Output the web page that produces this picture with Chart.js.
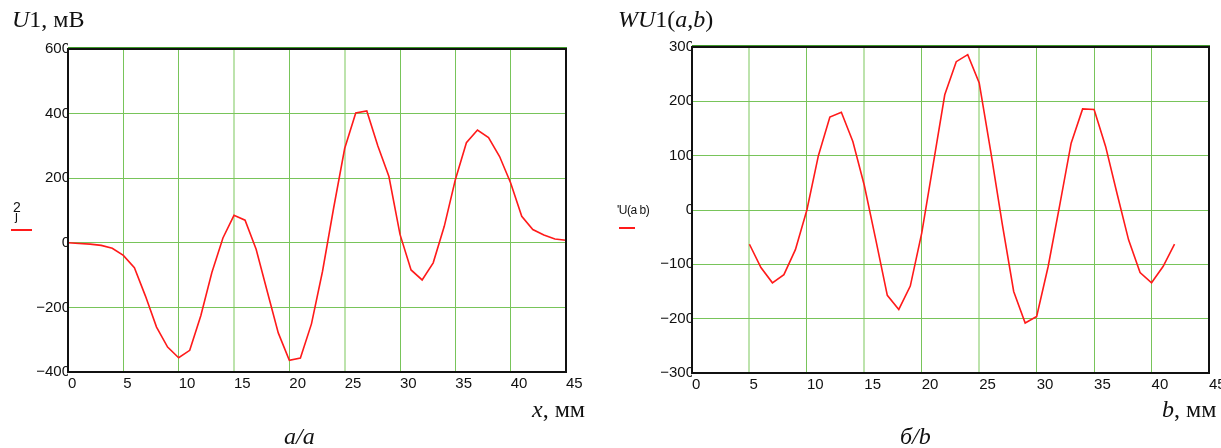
<!DOCTYPE html>
<html>
<head>
<meta charset="utf-8">
<script src="https://cdn.jsdelivr.net/npm/chart.js@4/dist/chart.umd.min.js"></script>
<style>
  html, body { margin: 0; padding: 0; background: #fff; overflow: hidden; }
  body { width: 1221px; height: 448px; position: relative; }
  .cv { position: absolute; top: 0; }
  .txt { position: absolute; white-space: nowrap; color: #111; font-family: "Liberation Serif", "DejaVu Serif", serif; }
  .leg { position: absolute; font-family: "Liberation Sans", Arial, sans-serif; color: #111; }
  .mark { position: absolute; height: 2px; background: #ff1a1a; }
  i { font-style: italic; }
</style>
</head>
<body>
<div class="cv" style="left:0; width:610px; height:448px;"><canvas id="chartA"></canvas></div>
<div class="cv" style="left:610px; width:640px; height:448px;"><canvas id="chartB"></canvas></div>

<!-- подписи осей -->
<div class="txt" style="left:12px; top:6px; font-size:24px;"><i>U</i>1, мВ</div>
<div class="txt" style="left:618px; top:6px; font-size:24px;"><i>WU</i>1(<i>a</i>,<i>b</i>)</div>
<div class="txt" style="left:532px; top:396px; font-size:24px;"><i>x</i>, мм</div>
<div class="txt" style="left:1162px; top:396px; font-size:24px;"><i>b</i>, мм</div>
<div class="txt" style="left:284px; top:423px; font-size:24px;"><i>а/a</i></div>
<div class="txt" style="left:900px; top:423px; font-size:24px;"><i>б/b</i></div>

<!-- метки легенды -->
<div class="leg" style="left:13px; top:199px; font-size:14px;">2</div>
<div class="leg" style="left:15px; top:208px; font-size:13px;">j</div>
<div class="mark" style="left:11px; top:229px; width:21px;"></div>
<div class="leg" style="left:617px; top:203px; font-size:12px; letter-spacing:-0.5px;">'U(a b)</div>
<div class="mark" style="left:619px; top:227px; width:16px;"></div>

<script>
// данные: U1(x), мВ
const xMm = [0, 1, 2, 3, 4, 5, 6, 7, 8, 9, 10, 11, 12, 13, 14, 15, 16, 17, 18, 19, 20, 21, 22,
    23, 24, 25, 26, 27, 28, 29, 30, 31, 32, 33, 34, 35, 36, 37, 38, 39, 40, 41, 42, 43, 44, 45];
const u1 = [0, -2, -4, -8, -17, -39, -77, -165, -261, -323, -356, -333, -226, -92, 15, 85, 70, -20,
    -150, -279, -364, -357, -251, -88, 107, 292, 402, 408, 300, 205, 26, -84, -115, -62, 51, 195,
    310, 349, 326, 267, 185, 82, 41, 24, 12, 8];

// данные: WU1(a,b)
const bMm = [5, 6, 7, 8, 9, 10, 11, 12, 13, 14, 15, 16, 17, 18, 19, 20, 21, 22, 23, 24, 25, 26, 27,
    28, 29, 30, 31, 32, 33, 34, 35, 36, 37, 38, 39, 40, 41, 42];
const wu1 = [-63, -106, -134, -119, -73, 0, 100, 171, 180, 126, 45, -55, -157, -183, -140, -42, 85,
    212, 273, 286, 234, 108, -25, -150, -208, -196, -104, 8, 123, 186, 185, 117, 30, -55, -115,
    -134, -104, -63];

// шкалы
const xTicks = [0, 5, 10, 15, 20, 25, 30, 35, 40, 45];
const yTicksA = [-400, -200, 0, 200, 400, 600];
const yTicksB = [-300, -200, -100, 0, 100, 200, 300];

const GRID = '#78c45a';
const GRID_LIGHT = '#bde3ad';
const tickFont = { family: '"Liberation Sans", Arial, sans-serif', size: 15 };

// рамка графика
const frame = {
    id: 'frame',
    afterDraw(chart) {
        const { ctx, chartArea: a } = chart;
        ctx.save();
        ctx.strokeStyle = '#111';
        ctx.lineWidth = 2;
        ctx.strokeRect(a.left, a.top, a.right - a.left, a.bottom - a.top);
        ctx.strokeStyle = '#3f9a2a';
        ctx.lineWidth = 1;
        ctx.beginPath();
        ctx.moveTo(a.left, a.top - 1.5);
        ctx.lineTo(a.right + 1, a.top - 1.5);
        ctx.stroke();
        ctx.restore();
    }
};

function makeChart(id, xs, ys, yTicks, lightX, pad) {
    const yMin = yTicks[0], yMax = yTicks[yTicks.length - 1];
    return new Chart(document.getElementById(id), {
        type: 'line',
        data: {
            datasets: [{
                data: xs.map((x, i) => ({ x: x, y: ys[i] })),
                borderColor: '#ff1a1a',
                borderWidth: 1.6,
                pointRadius: 0,
                tension: 0
            }]
        },
        options: {
            responsive: true,
            maintainAspectRatio: false,
            animation: false,
            layout: { padding: pad },
            plugins: { legend: { display: false }, tooltip: { enabled: false } },
            scales: {
                x: {
                    type: 'linear',
                    min: 0, max: 45,
                    afterBuildTicks: s => { s.ticks = xTicks.map(v => ({ value: v })); },
                    afterFit: s => { s.height = 20; },
                    grid: {
                        drawTicks: false,
                        color: c => lightX.includes(c.tick.value) ? GRID_LIGHT : GRID,
                        lineWidth: c => lightX.includes(c.tick.value) ? 2 : 1
                    },
                    border: { color: '#111', width: 2 },
                    ticks: { color: '#111', font: tickFont, padding: 3, align: 'start', maxRotation: 0 }
                },
                y: {
                    min: yMin, max: yMax,
                    afterBuildTicks: s => { s.ticks = yTicks.map(v => ({ value: v })); },
                    afterFit: s => { s.width = 40; },
                    grid: { drawTicks: false, color: GRID, lineWidth: 1 },
                    border: { color: '#111', width: 2 },
                    ticks: {
                        color: '#111', font: tickFont, padding: -2,
                        callback: v => String(v).replace('-', '\u2212')
                    }
                }
            }
        },
        plugins: [frame]
    });
}

makeChart('chartA', xMm, u1, yTicksA, [15, 25], { left: 28, top: 49, right: 44, bottom: 56 });
makeChart('chartB', bMm, wu1, yTicksB, [5, 15, 25], { left: 42, top: 47, right: 41, bottom: 55 });
</script>
</body>
</html>
